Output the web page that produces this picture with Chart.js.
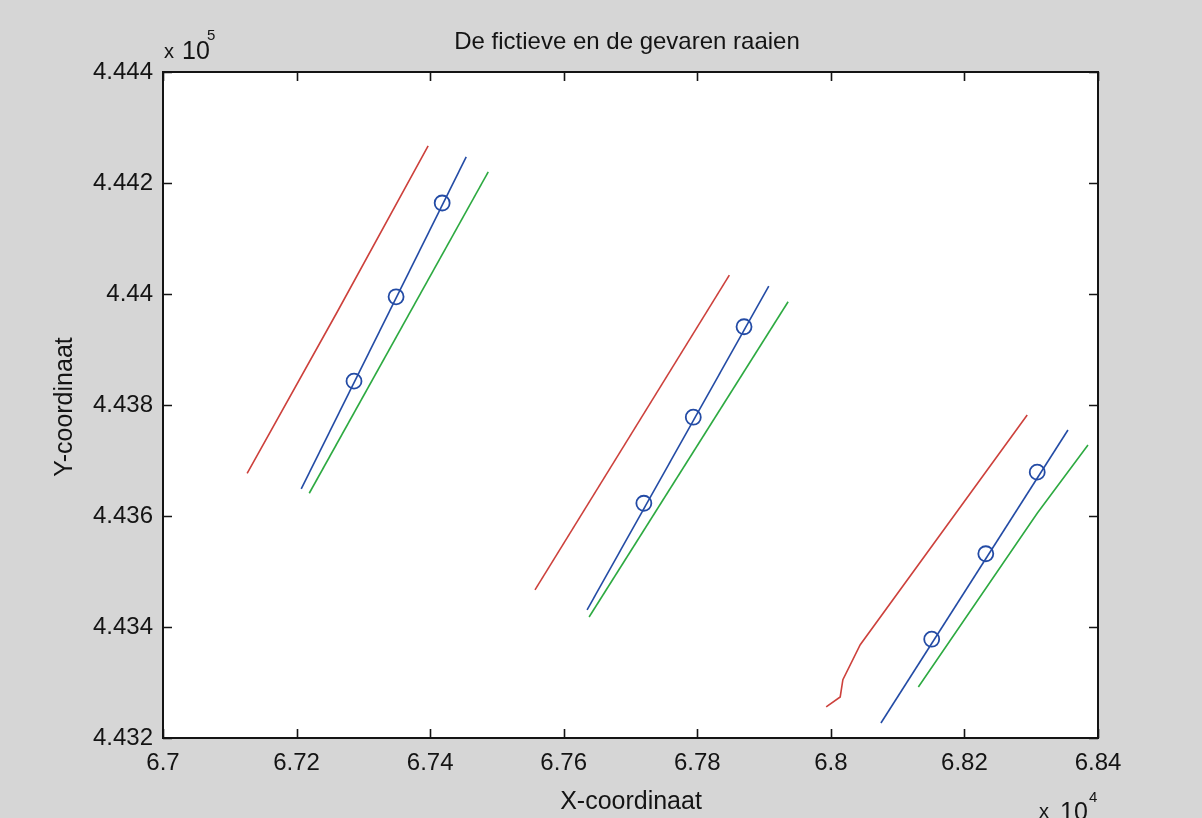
<!DOCTYPE html>
<html><head><meta charset="utf-8">
<script src="https://cdn.jsdelivr.net/npm/chart.js@4.4.0/dist/chart.umd.min.js"></script>
<style>
html,body{margin:0;padding:0;background:#d6d6d6;}
#wrap{width:1202px;height:818px;position:relative;}
</style>
</head><body>
<div id="wrap"><canvas id="c" width="1202" height="818"></canvas></div>
<script>
// Tick values and labels
const xTickValues = [67000, 67200, 67400, 67600, 67800, 68000, 68200, 68400];
const xTickLabels = ['6.7', '6.72', '6.74', '6.76', '6.78', '6.8', '6.82', '6.84'];
const yTickValues = [443200, 443400, 443600, 443800, 444000, 444200, 444400];
const yTickLabels = ['4.432', '4.434', '4.436', '4.438', '4.44', '4.442', '4.444'];

// Group 1 (fictive + sailed transects)
const red1X = [67126, 67261, 67397];
const red1Y = [443677, 443968, 444267];
const blue1X = [67207, 67454];
const blue1Y = [443649, 444247];
const green1X = [67219, 67487];
const green1Y = [443641, 444220];

// Group 2
const red2X = [67557, 67848];
const red2Y = [443467, 444034];
const blue2X = [67635, 67907];
const blue2Y = [443431, 444014];
const green2X = [67638, 67936];
const green2Y = [443418, 443986];

// Group 3
const red3X = [67993, 68014, 68018, 68044, 68294];
const red3Y = [443256, 443274, 443305, 443368, 443782];
const blue3X = [68075, 68355];
const blue3Y = [443227, 443755];
const green3X = [68131, 68309, 68385];
const green3Y = [443292, 443605, 443728];

// Circle markers on the blue lines
const markerX = [67286, 67349, 67418, 67720, 67794, 67870, 68151, 68232, 68309];
const markerY = [443843, 443995, 444164, 443623, 443778, 443941, 443378, 443532, 443679];

const RED = 'rgb(205,65,60)';
const BLUE = 'rgb(35,75,165)';
const GREEN = 'rgb(45,170,65)';
const INK = '#141414';
const FONT = '"Liberation Sans", Arial, Helvetica, sans-serif';

function pts(xs, ys) { return xs.map((x, i) => ({x: x, y: ys[i]})); }
function line(xs, ys, color) {
  return {data: pts(xs, ys), showLine: true, borderColor: color, borderWidth: 1.6,
          pointRadius: 0, fill: false, tension: 0};
}

const datasets = [
  line(red1X, red1Y, RED), line(blue1X, blue1Y, BLUE), line(green1X, green1Y, GREEN),
  line(red2X, red2Y, RED), line(blue2X, blue2Y, BLUE), line(green2X, green2Y, GREEN),
  line(red3X, red3Y, RED), line(blue3X, blue3Y, BLUE), line(green3X, green3Y, GREEN),
  {data: pts(markerX, markerY), showLine: false, pointStyle: 'circle', pointRadius: 7.5,
   pointBorderWidth: 1.8, pointBorderColor: BLUE, pointBackgroundColor: 'rgba(0,0,0,0)'}
];

const framePlugin = {
  id: 'frame',
  beforeDatasetsDraw(chart) {
    const a = chart.chartArea, ctx = chart.ctx;
    ctx.save();
    ctx.fillStyle = '#ffffff';
    ctx.fillRect(a.left, a.top, a.right - a.left, a.bottom - a.top);
    ctx.restore();
  },
  afterDraw(chart) {
    const a = chart.chartArea, ctx = chart.ctx;
    const xs = chart.scales.x, ys = chart.scales.y;
    ctx.save();
    ctx.strokeStyle = INK;
    ctx.lineWidth = 2;
    ctx.strokeRect(a.left, a.top, a.right - a.left, a.bottom - a.top);
    ctx.lineWidth = 1.6;
    const L = 9;
    ctx.beginPath();
    xTickValues.forEach(v => {
      const px = Math.round(xs.getPixelForValue(v)) + 0.5;
      ctx.moveTo(px, a.bottom); ctx.lineTo(px, a.bottom - L);
      ctx.moveTo(px, a.top); ctx.lineTo(px, a.top + L);
    });
    yTickValues.forEach(v => {
      const py = Math.round(ys.getPixelForValue(v)) + 0.5;
      ctx.moveTo(a.left, py); ctx.lineTo(a.left + L, py);
      ctx.moveTo(a.right, py); ctx.lineTo(a.right - L, py);
    });
    ctx.stroke();

    ctx.fillStyle = INK;
    // title
    ctx.font = '24px ' + FONT;
    ctx.textAlign = 'center';
    ctx.textBaseline = 'alphabetic';
    ctx.fillText('De fictieve en de gevaren raaien', 627, 49);
    // x axis title
    ctx.font = '25px ' + FONT;
    ctx.fillText('X-coordinaat', 631, 809);
    // y axis title
    ctx.save();
    ctx.translate(72, 407);
    ctx.rotate(-Math.PI / 2);
    ctx.fillText('Y-coordinaat', 0, 0);
    ctx.restore();
    // exponents
    ctx.textAlign = 'left';
    ctx.font = '20px ' + FONT;
    ctx.fillText('x', 164, 58);
    ctx.font = '25px ' + FONT;
    ctx.fillText('10', 182, 59);
    ctx.font = '15px ' + FONT;
    ctx.fillText('5', 207, 40);
    ctx.font = '20px ' + FONT;
    ctx.fillText('x', 1039, 818);
    ctx.font = '25px ' + FONT;
    ctx.fillText('10', 1060, 820);
    ctx.font = '15px ' + FONT;
    ctx.fillText('4', 1089, 802);
    ctx.restore();
  }
};

new Chart(document.getElementById('c'), {
  type: 'scatter',
  data: {datasets: datasets},
  options: {
    responsive: false,
    animation: false,
    events: [],
    layout: {padding: {top: 72, right: 104, left: 0, bottom: 0}},
    plugins: {legend: {display: false}, tooltip: {enabled: false}, title: {display: false}},
    scales: {
      x: {
        type: 'linear', min: 67000, max: 68400,
        afterBuildTicks: s => { s.ticks = xTickValues.map(v => ({value: v})); },
        afterFit: s => { s.height = 80; },
        grid: {display: false, drawTicks: false}, border: {display: false},
        ticks: {
          padding: 11, color: INK, maxRotation: 0, autoSkip: false,
          font: {family: FONT, size: 24},
          callback: v => xTickLabels[xTickValues.indexOf(v)]
        }
      },
      y: {
        type: 'linear', min: 443200, max: 444400,
        afterBuildTicks: s => { s.ticks = yTickValues.map(v => ({value: v})); },
        afterFit: s => { s.width = 163; },
        grid: {display: false, drawTicks: false}, border: {display: false},
        ticks: {
          padding: 10, color: INK, autoSkip: false,
          font: {family: FONT, size: 24},
          callback: v => yTickLabels[yTickValues.indexOf(v)]
        }
      }
    }
  },
  plugins: [framePlugin]
});
</script>
</body></html>
